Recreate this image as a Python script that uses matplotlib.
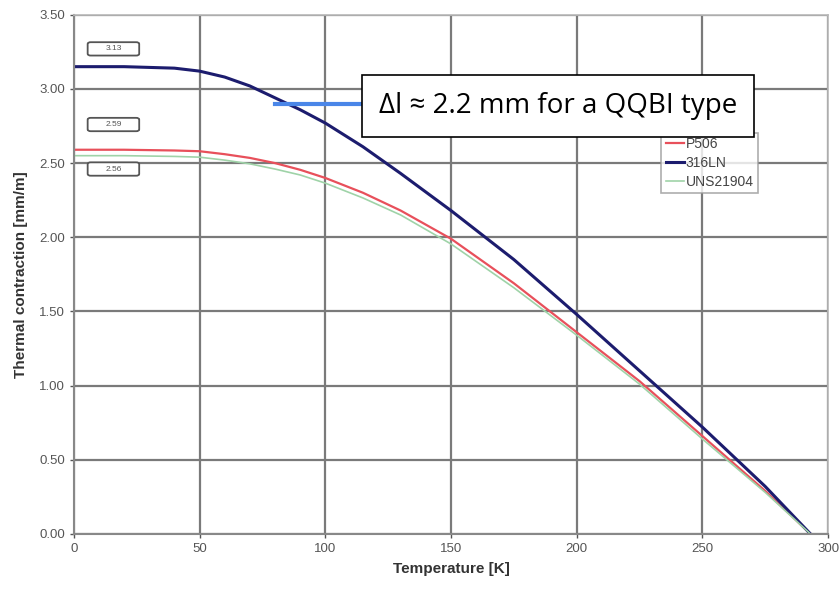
import matplotlib
matplotlib.use("Agg")
from matplotlib import pyplot as plt
from matplotlib.patches import FancyBboxPatch

# temperature [K]
temperature = [0, 20, 40, 50, 60, 70, 80, 90, 100, 115, 130, 150, 175, 200, 225, 250, 275, 293]

# thermal contraction [mm/m]
p506 = [2.59, 2.59, 2.585, 2.58, 2.56, 2.535, 2.50, 2.455, 2.40, 2.30, 2.18, 1.99,
        1.69, 1.36, 1.03, 0.66, 0.29, 0.0]
ss316ln = [3.15, 3.15, 3.14, 3.12, 3.08, 3.02, 2.94, 2.86, 2.77, 2.61, 2.43, 2.18,
           1.85, 1.48, 1.10, 0.72, 0.32, 0.0]
uns21904 = [2.55, 2.55, 2.545, 2.54, 2.52, 2.495, 2.46, 2.42, 2.365, 2.265, 2.15, 1.955,
            1.66, 1.34, 1.01, 0.64, 0.28, 0.0]

series_names = ["P506", "316LN", "UNS21904"]
value_labels = ["3.13", "2.59", "2.56"]
value_label_y = [3.27, 2.76, 2.46]

x_ticks = [0, 50, 100, 150, 200, 250, 300]
y_ticks = [0.0, 0.5, 1.0, 1.5, 2.0, 2.5, 3.0, 3.5]


def main():
    plt.rcParams['font.family'] = ['Liberation Sans', 'DejaVu Sans']
    fig = plt.figure(figsize=(8.39, 5.9), dpi=100)
    ax = fig.add_axes([0.088, 0.095, 0.899, 0.88])

    ax.plot(temperature, p506, color='#e8505b', lw=1.6, label=series_names[0])
    ax.plot(temperature, ss316ln, color='#1c1c6e', lw=2.2, label=series_names[1])
    ax.plot(temperature, uns21904, color='#9fd3a8', lw=1.2, label=series_names[2])

    ax.set_xlim(0, 300)
    ax.set_ylim(0, 3.5)
    ax.set_xticks(x_ticks)
    ax.set_yticks(y_ticks)
    ax.set_yticklabels([f"{v:.2f}" for v in y_ticks])
    ax.tick_params(labelsize=9.5, colors='#555555', length=3, width=1)
    ax.grid(True, color='#7a7a7a', lw=1.6)
    ax.set_axisbelow(True)
    for side in ['left', 'bottom']:
        ax.spines[side].set_color('#888888')
        ax.spines[side].set_linewidth(1.5)
    for side in ['top', 'right']:
        ax.spines[side].set_color('#b8b8b8')
        ax.spines[side].set_linewidth(1.2)

    ax.set_xlabel("Temperature [K]", fontsize=11, fontweight='bold', color='#333333', labelpad=5)
    ax.set_ylabel("Thermal contraction [mm/m]", fontsize=11, fontweight='bold', color='#333333',
                  labelpad=8)

    # small value boxes at the left
    for txt, yv in zip(value_labels, value_label_y):
        box = FancyBboxPatch((5.5, yv - 0.045), 20.5, 0.09,
                             boxstyle='round,pad=0,rounding_size=1.2', mutation_aspect=0.01,
                             fc='white', ec='#555555', lw=1.3, zorder=5)
        ax.add_patch(box)
        ax.text(15.75, yv, txt, fontsize=6, color='#555555', ha='center', va='center',
                zorder=6)

    # legend
    leg = ax.legend(loc='upper left', bbox_to_anchor=(0.779, 0.772), fontsize=10,
                    frameon=True, fancybox=False, handlelength=1.3, handletextpad=0.15,
                    borderpad=0.3, labelspacing=0.35, borderaxespad=0)
    leg.get_frame().set_edgecolor('#999999')
    leg.get_frame().set_linewidth(1.2)
    for t in leg.get_texts():
        t.set_color('#444444')

    # annotation box with pointer line
    fig.add_artist(plt.Line2D([275 / 839, 362 / 839], [1 - 104 / 590, 1 - 104 / 590],
                              color='#4a86e8', lw=3, zorder=6))
    fig.text(558 / 839, 1 - 106 / 590, "\u0394l \u2248 2.2 mm for a QQBI type",
             fontsize=20, family=['Open Sans', 'DejaVu Sans'], ha='center', va='center',
             bbox=dict(boxstyle='square,pad=0.6', fc='white', ec='black', lw=1.2),
             zorder=7)

    plt.savefig("out.png", dpi=100)


if __name__ == '__main__':
    main()
